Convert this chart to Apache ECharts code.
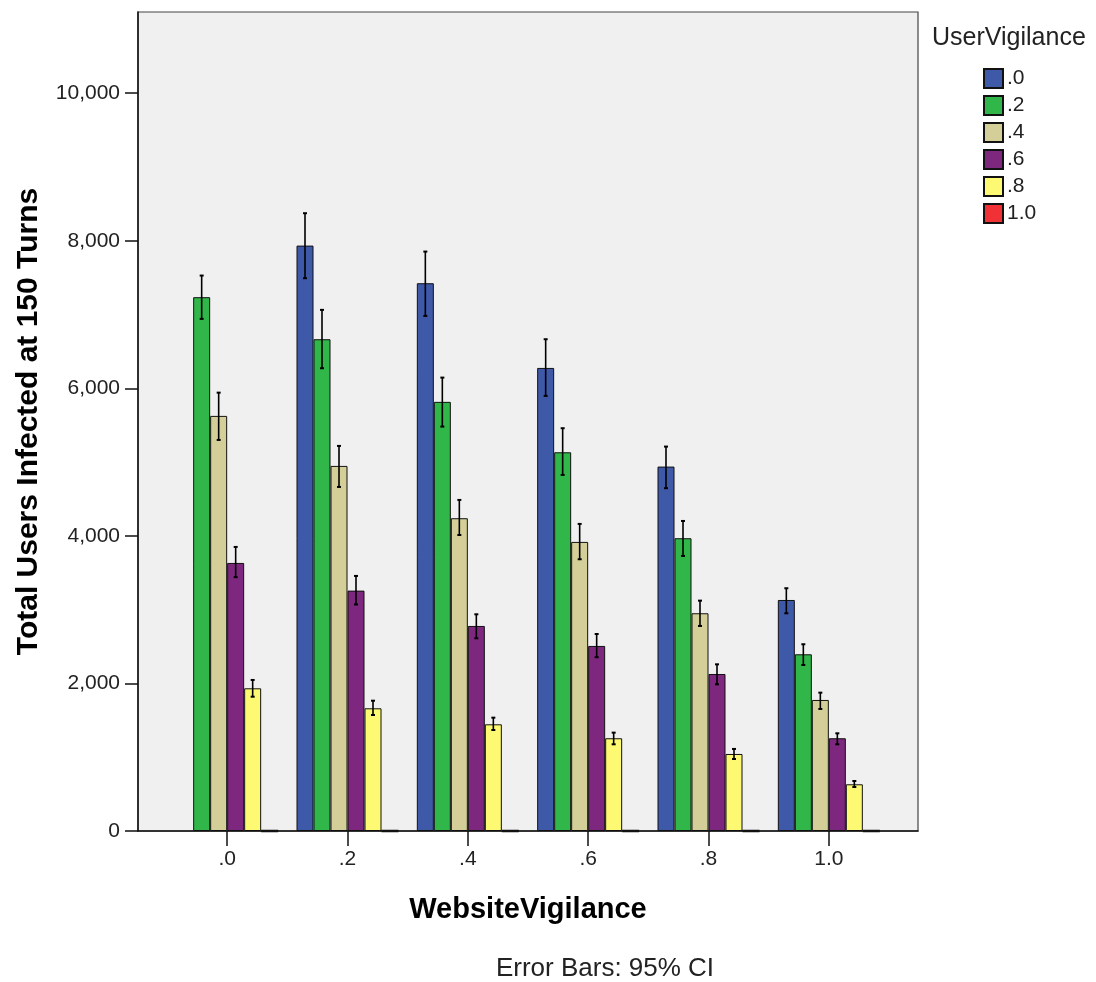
<!DOCTYPE html>
<html>
<head>
<meta charset="utf-8">
<script src="https://cdn.jsdelivr.net/npm/echarts@6/dist/echarts.min.js"></script>
<style>html,body{margin:0;padding:0;background:#fff}#c{width:1096px;height:982px}</style>
</head>
<body>
<div id="c"></div>
<script>
// ---- data ----
const websiteCats = ['.0', '.2', '.4', '.6', '.8', '1.0'];
const userLevels = ['.0', '.2', '.4', '.6', '.8', '1.0'];
const yTicks = [0, 2000, 4000, 6000, 8000, 10000];

const mean_u00 = [null, 7934, 7424, 6276, 4939, 3131];
const mean_u02 = [7235, 6665, 5816, 5133, 3968, 2395];
const mean_u04 = [5626, 4948, 4239, 3918, 2951, 1776];
const mean_u06 = [3633, 3258, 2779, 2508, 2128, 1257];
const mean_u08 = [1934, 1663, 1446, 1257, 1044, 633];
const mean_u10 = [0, 0, 0, 0, 0, 0];

const low_u00 = [null, 7492, 6981, 5897, 4646, 2951];
const high_u00 = [null, 8373, 7853, 6665, 5210, 3290];
const low_u02 = [6941, 6272, 5481, 4826, 3728, 2250];
const high_u02 = [7528, 7063, 6145, 5459, 4202, 2531];
const low_u04 = [5300, 4663, 4012, 3683, 2779, 1654];
const high_u04 = [5941, 5219, 4487, 4162, 3122, 1875];
const low_u06 = [3440, 3070, 2612, 2355, 1988, 1175];
const high_u06 = [3850, 3457, 2937, 2670, 2259, 1324];
const low_u08 = [1820, 1572, 1369, 1175, 976, 596];
const high_u08 = [2047, 1766, 1536, 1333, 1112, 678];

const means = [mean_u00, mean_u02, mean_u04, mean_u06, mean_u08, mean_u10];
const lows = [low_u00, low_u02, low_u04, low_u06, low_u08, null];
const highs = [high_u00, high_u02, high_u04, high_u06, high_u08, null];

const colors = ['#3f59a9', '#31b749', '#d4cf98', '#7d287e', '#fdf972', '#f03236'];
const BAR_W = 17;
const FONT = 'Arial, "Liberation Sans", sans-serif';

// ---- build ----
const barSeries = userLevels.map((lv, i) => ({
  name: lv,
  type: 'bar',
  xAxisIndex: 1,
  yAxisIndex: 1,
  barWidth: BAR_W,
  barGap: '0%',
  data: means[i].map(v => v === null ? '-' : v),
  itemStyle: { color: colors[i], borderColor: '#111', borderWidth: i === 5 ? 2.5 : 1 },
  emphasis: { disabled: true },
  z: 2
}));

const errData = [];
lows.forEach((arr, s) => {
  if (!arr) return;
  arr.forEach((lo, c) => {
    if (lo === null) return;
    errData.push([c, s, lo, highs[s][c]]);
  });
});

const errSeries = {
  name: 'err',
  type: 'custom',
  xAxisIndex: 1,
  yAxisIndex: 1,
  data: errData,
  z: 5,
  renderItem: function (params, api) {
    const c = api.value(0), s = api.value(1);
    const pLo = api.coord([c, api.value(2)]);
    const pHi = api.coord([c, api.value(3)]);
    const x = pLo[0] + (s - 2.5) * BAR_W;
    const st = { stroke: '#000', lineWidth: 1.6 };
    return {
      type: 'group',
      children: [
        { type: 'line', shape: { x1: x, y1: pLo[1], x2: x, y2: pHi[1] }, style: st },
        { type: 'line', shape: { x1: x - 2, y1: pHi[1], x2: x + 2, y2: pHi[1] }, style: { stroke: '#000', lineWidth: 2 } },
        { type: 'line', shape: { x1: x - 2, y1: pLo[1], x2: x + 2, y2: pLo[1] }, style: { stroke: '#000', lineWidth: 2 } }
      ]
    };
  }
};

const option = {
  animation: false,
  textStyle: { fontFamily: FONT },
  title: [{
    text: 'UserVigilance', left: 927, top: 21,
    textStyle: { fontSize: 25, fontWeight: 'normal', color: '#222', fontFamily: FONT }
  }],
  legend: {
    orient: 'vertical', left: 978, top: 63,
    itemWidth: 19, itemHeight: 19, itemGap: 6,
    icon: 'rect',
    data: userLevels,
    textStyle: { fontSize: 21, color: '#222', fontFamily: FONT, padding: [0, 0, 0, -1], lineHeight: 21 },
    selectedMode: false
  },
  grid: [
    { left: 138, right: 178, top: 12, bottom: 151, show: true, backgroundColor: '#f0f0f0', borderColor: '#444', borderWidth: 1.2 },
    { left: 167, right: 207, top: 12, bottom: 151 }
  ],
  xAxis: [
    { type: 'value', gridIndex: 0, min: 0, max: 1, axisLine: { show: true, onZero: false, lineStyle: { color: '#111', width: 1.5 } },
      axisTick: { show: false }, axisLabel: { show: false }, splitLine: { show: false } },
    { type: 'category', gridIndex: 1, data: websiteCats,
      axisLine: { show: false },
      axisTick: { show: true, alignWithLabel: true, length: 15, lineStyle: { color: '#111', width: 1.5 } },
      axisLabel: { margin: 18, fontSize: 21, color: '#222', fontFamily: FONT },
      name: 'WebsiteVigilance', nameLocation: 'middle', nameGap: 64,
      nameTextStyle: { fontSize: 29, fontWeight: 'bold', color: '#000', fontFamily: FONT }
    }
  ],
  yAxis: [
    { type: 'value', gridIndex: 0, min: 0, max: 11100, interval: 2000,
      axisLine: { show: true, lineStyle: { color: '#111', width: 1.5 } },
      axisTick: { show: true, length: 13, customValues: yTicks, lineStyle: { color: '#111', width: 1.5 } },
      axisLabel: { margin: 18, fontSize: 21, color: '#222', fontFamily: FONT, customValues: yTicks,
        formatter: v => v.toLocaleString('en-US') },
      splitLine: { show: false },
      name: 'Total Users Infected at 150 Turns', nameLocation: 'middle', nameGap: 94,
      nameTextStyle: { fontSize: 30, fontWeight: 'bold', color: '#000', fontFamily: FONT }
    },
    { type: 'value', gridIndex: 1, min: 0, max: 11100, show: false, splitLine: { show: false } }
  ],
  graphic: [{
    type: 'text', x: 605, y: 969,
    style: { text: 'Error Bars: 95% CI', fontSize: 26, fill: '#222', fontFamily: FONT, align: 'center', verticalAlign: 'middle' }
  }],
  series: barSeries.concat([errSeries])
};

const chart = echarts.init(document.getElementById('c'), null, { renderer: 'canvas' });
chart.setOption(option);
</script>
</body>
</html>
